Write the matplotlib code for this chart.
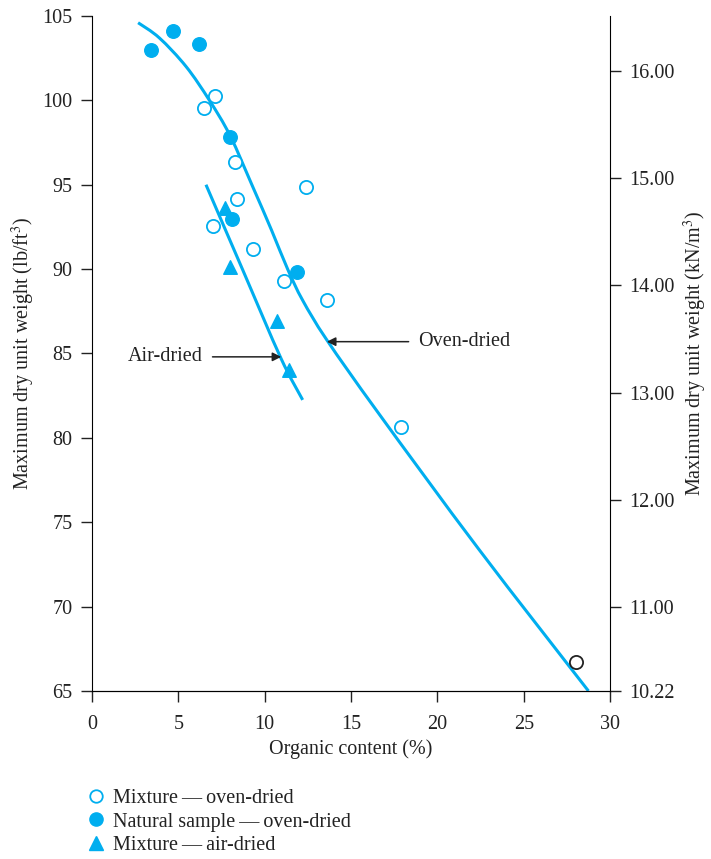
import matplotlib.pyplot as plt
from matplotlib.lines import Line2D
from matplotlib.path import Path
from matplotlib.patches import PathPatch

plt.rcParams['font.family'] = ['Liberation Serif', 'DejaVu Serif']
plt.rcParams['mathtext.fontset'] = 'stix'

blue = '#00aeef'
fs = 14.5

# mixture, oven-dried (open circles)
mix_oven_x = [7.15, 6.5, 8.3, 8.4, 7.0, 12.4, 9.3, 11.1, 13.6, 17.9]
mix_oven_y = [100.25, 99.55, 96.35, 94.15, 92.55, 94.85, 91.2, 89.3, 88.15, 80.65]
# one black open circle at high organic content
black_x = [28.05]
black_y = [66.7]
# natural sample, oven-dried (filled circles)
nat_x = [3.4, 4.7, 6.2, 8.0, 8.1, 11.9]
nat_y = [103.0, 104.1, 103.35, 97.8, 92.95, 89.85]
# mixture, air-dried (triangles)
air_x = [7.7, 8.0, 10.7, 11.4]
air_y = [93.65, 90.1, 86.9, 84.05]

# fitted curves, knots
oven_curve_x = [2.67, 3.9, 5.45, 6.8, 8.0, 9.3, 10.4, 11.35, 12.2, 13.6, 16.6, 22.4, 28.75]
oven_curve_y = [104.6, 103.7, 102.0, 100.0, 97.9, 94.9, 92.3, 89.95, 88.15, 85.8, 81.45, 73.4, 65.0]
air_curve_x = [6.6, 8.73, 10.94, 12.2]
air_curve_y = [95.0, 89.95, 84.72, 82.25]

kn_ticks = [10.22, 11, 12, 13, 14, 15, 16]
factor = 10.22 / 65


def smooth_path(xs, ys):
    # catmull-rom knots -> cubic bezier path
    pts = list(zip(xs, ys))
    verts = [pts[0]]
    codes = [Path.MOVETO]
    n = len(pts)
    for i in range(n - 1):
        p0 = pts[max(i - 1, 0)]
        p1 = pts[i]
        p2 = pts[i + 1]
        p3 = pts[min(i + 2, n - 1)]
        c1 = (p1[0] + (p2[0] - p0[0]) / 6, p1[1] + (p2[1] - p0[1]) / 6)
        c2 = (p2[0] - (p3[0] - p1[0]) / 6, p2[1] - (p3[1] - p1[1]) / 6)
        verts += [c1, c2, p2]
        codes += [Path.CURVE4] * 3
    return Path(verts, codes)


fig = plt.figure(figsize=(7.11, 8.59), dpi=100)
ax = fig.add_axes([0.1294, 0.1956, 0.7286, 0.7858])

for cx, cy in [(oven_curve_x, oven_curve_y), (air_curve_x, air_curve_y)]:
    ax.add_patch(PathPatch(smooth_path(cx, cy), fill=False, edgecolor=blue, lw=2.2))

ax.scatter(mix_oven_x, mix_oven_y, s=90, facecolors='white', edgecolors=blue, linewidths=1.3, zorder=3)
ax.scatter(black_x, black_y, s=90, facecolors='white', edgecolors='#222222', linewidths=1.3, zorder=3)
ax.scatter(nat_x, nat_y, s=95, color=blue, zorder=3)
ax.scatter(air_x, air_y, s=95, marker='^', color=blue, zorder=3)

ax.set_xlim(0, 30)
ax.set_ylim(65, 105)
ax.set_xticks(range(0, 31, 5))
ax.set_yticks(range(65, 106, 5))
ax.spines['top'].set_visible(False)
ax.spines['right'].set_visible(False)
ax.tick_params(direction='out', length=8, width=1, labelsize=fs, pad=6, colors='#222222')
ax.tick_params(axis='x', pad=9)
ax.set_xlabel('Organic content (%)', fontsize=fs, labelpad=4, color='#222222')
ax.set_ylabel('Maximum dry unit weight (lb/ft$^3$)', fontsize=fs, labelpad=4, color='#222222')

ax2 = ax.twinx()
ax2.set_ylim(65 * factor, 105 * factor)
ax2.set_yticks(kn_ticks)
ax2.set_yticklabels([f'{t:.2f}' for t in kn_ticks])
ax2.spines['top'].set_visible(False)
ax2.spines['left'].set_visible(False)
ax2.tick_params(direction='out', length=8, width=1, labelsize=fs, pad=6, colors='#222222')
ax2.set_ylabel('Maximum dry unit weight (kN/m$^3$)', fontsize=fs, labelpad=5, color='#222222')

arrow = dict(arrowstyle='-|>', color='#222222', lw=1.1, mutation_scale=13, shrinkA=5, shrinkB=0)
ax.annotate('Oven-dried', xy=(13.6, 85.7), xytext=(18.9, 85.7), fontsize=fs, color='#222222',
            va='center', ha='left', arrowprops=arrow)
ax.annotate('Air-dried', xy=(10.96, 84.8), xytext=(2.08, 84.8), fontsize=fs, color='#222222',
            va='center', ha='left', arrowprops=arrow)

handles = [
    Line2D([], [], ls='none', marker='o', ms=9, mfc='white', mec=blue, mew=1.3),
    Line2D([], [], ls='none', marker='o', ms=9.5, color=blue),
    Line2D([], [], ls='none', marker='^', ms=9.5, color=blue),
]
labels = ['Mixture\u2009—\u2009oven-dried', 'Natural sample\u2009—\u2009oven-dried',
          'Mixture\u2009—\u2009air-dried']
fig.legend(handles, labels, loc='upper left', bbox_to_anchor=(0.112, 0.091),
           frameon=False, fontsize=fs, handlelength=0.8, handletextpad=0.45,
           labelspacing=0.22, borderaxespad=0, labelcolor='#222222')

fig.savefig('out.png', dpi=100)
